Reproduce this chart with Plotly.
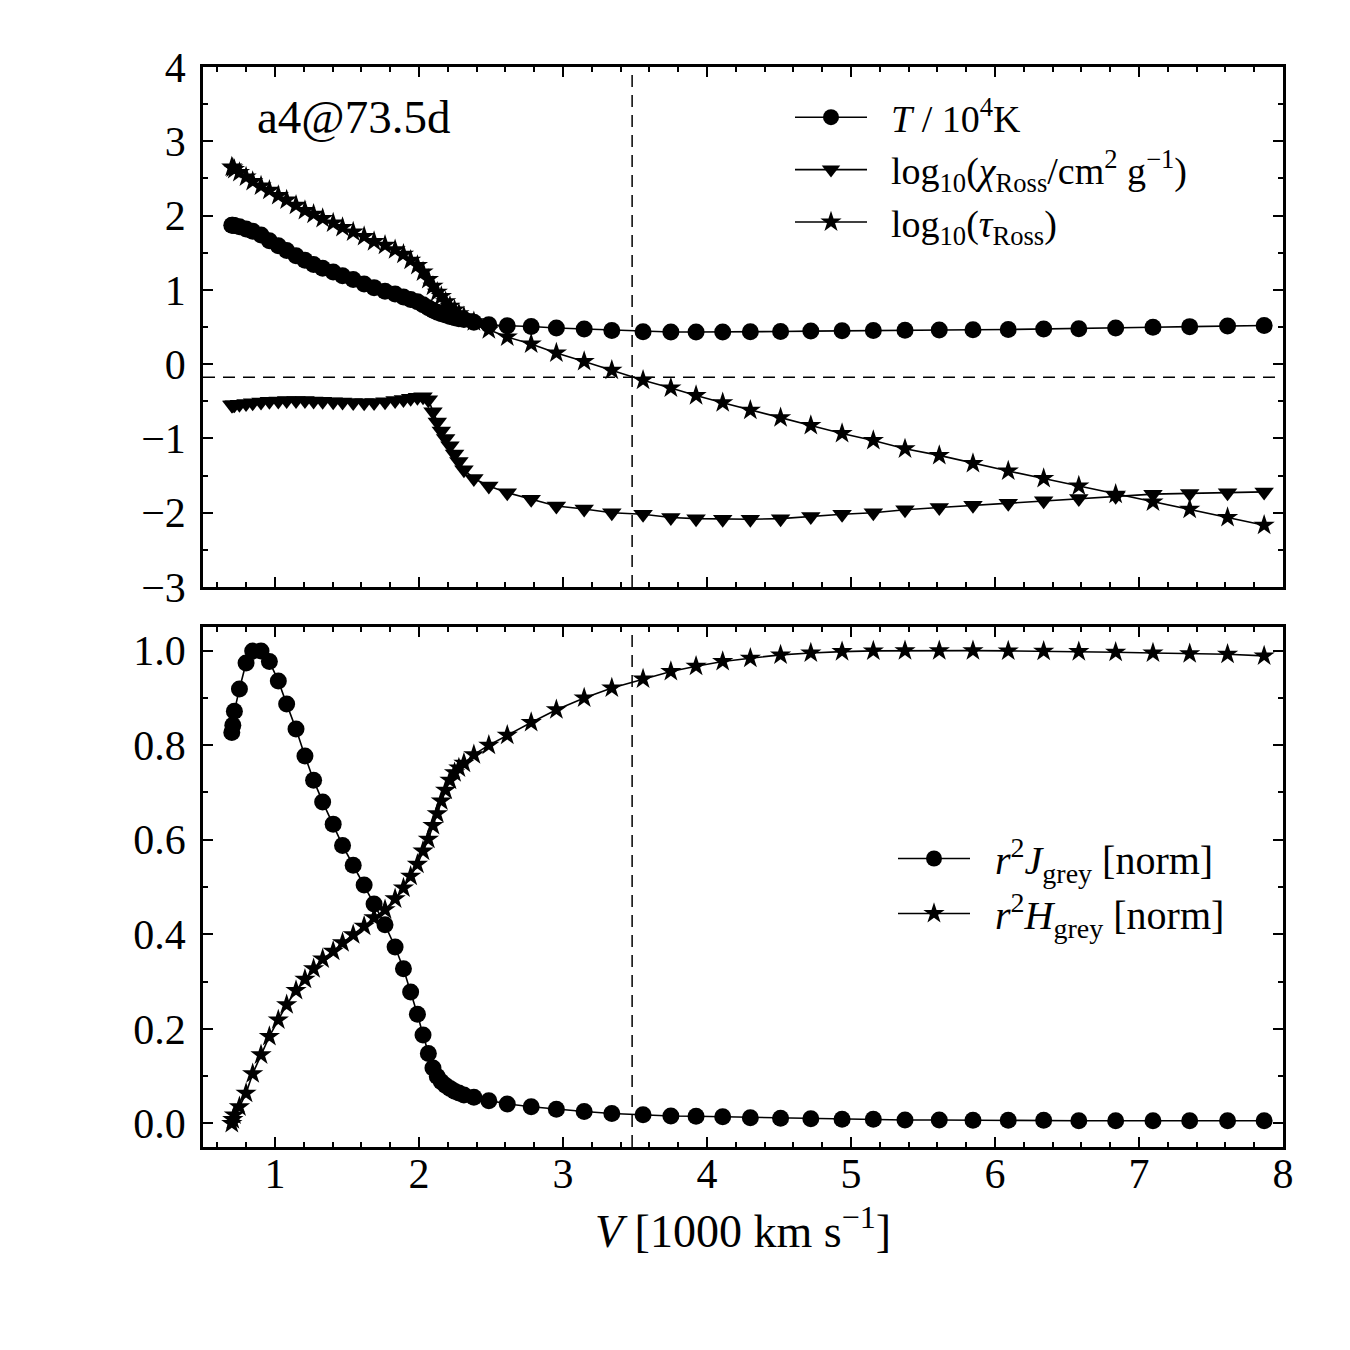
import math
import plotly.graph_objects as go

# ---------------- data ----------------
V = [0.700, 0.707, 0.718, 0.753, 0.799, 0.845, 0.903, 0.961, 1.023, 1.081,
     1.146, 1.208, 1.268, 1.331, 1.404, 1.469, 1.543, 1.619, 1.688, 1.764,
     1.834, 1.892, 1.942, 1.989, 2.028, 2.065, 2.097, 2.127, 2.155, 2.185,
     2.215, 2.247, 2.277, 2.312, 2.381, 2.485, 2.613, 2.779, 2.954, 3.147,
     3.339, 3.556, 3.749, 3.924, 4.109, 4.301, 4.511, 4.721, 4.938, 5.155,
     5.375, 5.613, 5.847, 6.092, 6.338, 6.582, 6.838, 7.097, 7.352, 7.615,
     7.869]

T_1e4K = [1.87, 1.87, 1.865, 1.85, 1.82, 1.79, 1.74, 1.66, 1.595, 1.53,
          1.46, 1.40, 1.34, 1.29, 1.24, 1.19, 1.14, 1.08, 1.03, 0.98,
          0.945, 0.905, 0.87, 0.84, 0.80, 0.76, 0.725, 0.70, 0.68, 0.66,
          0.64, 0.625, 0.61, 0.60, 0.565, 0.53, 0.517, 0.507, 0.486, 0.472,
          0.454, 0.436, 0.432, 0.432, 0.432, 0.436, 0.44, 0.445, 0.45, 0.452,
          0.456, 0.46, 0.463, 0.467, 0.472, 0.477, 0.486, 0.497, 0.505, 0.515,
          0.52]

LOG_CHI = [-0.55, -0.55, -0.545, -0.54, -0.53, -0.52, -0.51, -0.50, -0.495, -0.49,
           -0.49, -0.49, -0.495, -0.50, -0.505, -0.51, -0.515, -0.52, -0.515, -0.505,
           -0.49, -0.475, -0.46, -0.445, -0.44, -0.48, -0.64, -0.78, -0.90, -1.00,
           -1.10, -1.21, -1.31, -1.42, -1.54, -1.64, -1.73, -1.82, -1.91, -1.95,
           -2.00, -2.02, -2.065, -2.08, -2.087, -2.087, -2.08, -2.05, -2.02, -2.00,
           -1.96, -1.93, -1.90, -1.873, -1.84, -1.81, -1.78, -1.75, -1.74, -1.73,
           -1.72]

LOG_TAU = [2.655, 2.64, 2.62, 2.58, 2.52, 2.46, 2.40, 2.34, 2.27, 2.21,
           2.14, 2.07, 2.02, 1.96, 1.90, 1.84, 1.78, 1.72, 1.65, 1.60,
           1.54, 1.48, 1.40, 1.33, 1.24, 1.14, 1.05, 0.97, 0.91, 0.84,
           0.78, 0.73, 0.68, 0.64, 0.57, 0.463, 0.365, 0.271, 0.15, 0.035,
           -0.083, -0.217, -0.32, -0.423, -0.52, -0.62, -0.72, -0.825, -0.933, -1.027,
           -1.14, -1.228, -1.336, -1.439, -1.54, -1.64, -1.75, -1.855, -1.953, -2.065,
           -2.168]

J_GREY = [0.827, 0.842, 0.872, 0.919, 0.974, 0.999, 0.999, 0.977, 0.936, 0.887,
          0.834, 0.777, 0.726, 0.680, 0.633, 0.588, 0.546, 0.504, 0.464, 0.420,
          0.373, 0.327, 0.278, 0.231, 0.187, 0.148, 0.117, 0.099, 0.088, 0.080,
          0.074, 0.068, 0.064, 0.060, 0.055, 0.048, 0.041, 0.035, 0.030, 0.025,
          0.021, 0.018, 0.0155, 0.015, 0.014, 0.012, 0.0106, 0.010, 0.0085, 0.0085,
          0.007, 0.007, 0.0064, 0.0064, 0.0064, 0.0056, 0.0056, 0.0056, 0.0056, 0.0056,
          0.0056]

H_GREY = [0.0, 0.008, 0.018, 0.035, 0.064, 0.105, 0.145, 0.184, 0.219, 0.251,
          0.281, 0.305, 0.327, 0.348, 0.364, 0.382, 0.399, 0.417, 0.435, 0.452,
          0.475, 0.498, 0.523, 0.548, 0.576, 0.601, 0.630, 0.655, 0.682, 0.705,
          0.726, 0.742, 0.752, 0.762, 0.780, 0.800, 0.821, 0.848, 0.875, 0.900,
          0.921, 0.940, 0.956, 0.967, 0.977, 0.984, 0.991, 0.995, 0.998, 0.9994,
          1.0, 1.0, 1.0, 0.9994, 0.999, 0.998, 0.9966, 0.995, 0.9937, 0.9923,
          0.989]

V_PHOT = 3.48                      # velocity where tau_Ross = 2/3
LOG_TAU_PHOT = math.log10(2.0 / 3.0)

X_TICKS = [1, 2, 3, 4, 5, 6, 7, 8]
Y1_TICKS = [-3, -2, -1, 0, 1, 2, 3, 4]
Y2_TICKS = [0.0, 0.2, 0.4, 0.6, 0.8, 1.0]

LABEL = "a4@73.5d"
X_TITLE = "<i>V</i> [1000 km s<sup>−1</sup>]"

# ---------------- figure ----------------
FONT = "Liberation Serif"
line = dict(color="black", width=1.6)
SP = "\u2002"   # gap between legend sample and text

fig = go.Figure()

fig.add_trace(go.Scatter(x=V, y=T_1e4K, mode="lines+markers", xaxis="x", yaxis="y",
                         name=SP + "<i>T</i> / 10<sup>4</sup>K", legend="legend",
                         line=line, marker=dict(symbol="circle", size=17, color="black")))
fig.add_trace(go.Scatter(x=V, y=LOG_CHI, mode="lines+markers", xaxis="x", yaxis="y",
                         name=SP + "log<sub>10</sub>(<i>χ</i><sub>Ross</sub>/cm<sup>2</sup> g<sup>−1</sup>)",
                         legend="legend", line=line,
                         marker=dict(symbol="triangle-down", size=17, color="black")))
fig.add_trace(go.Scatter(x=V, y=LOG_TAU, mode="lines+markers", xaxis="x", yaxis="y",
                         name=SP + "log<sub>10</sub>(<i>τ</i><sub>Ross</sub>)", legend="legend",
                         line=line, marker=dict(symbol="star", size=16, color="black")))

fig.add_trace(go.Scatter(x=V, y=J_GREY, mode="lines+markers", xaxis="x2", yaxis="y2",
                         name=SP + "<i>r</i><sup>2</sup><i>J</i><sub>grey</sub> [norm]", legend="legend2",
                         line=line, marker=dict(symbol="circle", size=17, color="black")))
fig.add_trace(go.Scatter(x=V, y=H_GREY, mode="lines+markers", xaxis="x2", yaxis="y2",
                         name=SP + "<i>r</i><sup>2</sup><i>H</i><sub>grey</sub> [norm]", legend="legend2",
                         line=line, marker=dict(symbol="star", size=16, color="black")))

dash = dict(color="black", width=1.5, dash="12px,8px")
shapes = [
    dict(type="line", xref="x", yref="y domain", x0=V_PHOT, x1=V_PHOT, y0=0, y1=1, line=dash),
    dict(type="line", xref="x2", yref="y2 domain", x0=V_PHOT, x1=V_PHOT, y0=0, y1=1, line=dash),
    dict(type="line", xref="x domain", yref="y", x0=0, x1=1, y0=LOG_TAU_PHOT, y1=LOG_TAU_PHOT, line=dash),
]

XDOM = [203 / 1350, 1283 / 1350]
Y1DOM = [1 - 587 / 1350, 1 - 67 / 1350]
Y2DOM = [1 - 1147 / 1350, 1 - 627 / 1350]

tickfont = dict(family=FONT, size=42, color="black")
common = dict(showline=True, linewidth=2.5, linecolor="black", mirror="ticks",
              ticks="inside", ticklen=10, tickwidth=2, tickcolor="black",
              showgrid=False, zeroline=False, automargin=False, tickfont=tickfont)

fig.update_layout(
    width=1350, height=1350, autosize=False,
    margin=dict(l=0, r=0, t=0, b=0),
    paper_bgcolor="white", plot_bgcolor="white",
    font=dict(family=FONT, color="black"),
    showlegend=True,
    xaxis=dict(domain=XDOM, anchor="y", range=[0.5, 8.0], tickvals=X_TICKS,
               showticklabels=False,
               minor=dict(ticks="inside", ticklen=5, tickwidth=1.5, dtick=0.2, tick0=0, tickcolor="black"),
               **common),
    yaxis=dict(domain=Y1DOM, anchor="x", range=[-3, 4], tickvals=Y1_TICKS,
               ticklabelstandoff=6,
               minor=dict(ticks="inside", ticklen=5, tickwidth=1.5, dtick=0.5, tick0=0, tickcolor="black"),
               **common),
    xaxis2=dict(domain=XDOM, anchor="y2", range=[0.5, 8.0], tickvals=X_TICKS, matches="x",
                ticklabelstandoff=-12,
                minor=dict(ticks="inside", ticklen=5, tickwidth=1.5, dtick=0.2, tick0=0, tickcolor="black"),
                **common),
    yaxis2=dict(domain=Y2DOM, anchor="x2", range=[-0.05, 1.05], tickvals=Y2_TICKS,
                tickformat=".1f", ticklabelstandoff=6,
                minor=dict(ticks="inside", ticklen=5, tickwidth=1.5, dtick=0.1, tick0=0, tickcolor="black"),
                **common),
    legend=dict(x=790 / 1350, y=1 - 86 / 1350, xanchor="left", yanchor="top",
                bgcolor="rgba(0,0,0,0)", font=dict(family=FONT, size=38, color="black"),
                itemwidth=72, tracegroupgap=0),
    legend2=dict(x=893 / 1350, y=1 - 886 / 1350, xanchor="left", yanchor="middle",
                 bgcolor="rgba(0,0,0,0)", font=dict(family=FONT, size=40, color="black"),
                 itemwidth=72, tracegroupgap=0),
    shapes=shapes,
    annotations=[
        dict(text=LABEL, xref="paper", yref="paper", x=255 / 1350, y=1 - 117 / 1350,
             xanchor="left", yanchor="middle", showarrow=False,
             font=dict(family=FONT, size=47, color="black")),
        dict(text=X_TITLE, xref="paper", yref="paper", x=743 / 1350, y=1 - 1228 / 1350,
             xanchor="center", yanchor="middle", showarrow=False,
             font=dict(family=FONT, size=46, color="black")),
    ],
)

fig.write_html("out.html")
